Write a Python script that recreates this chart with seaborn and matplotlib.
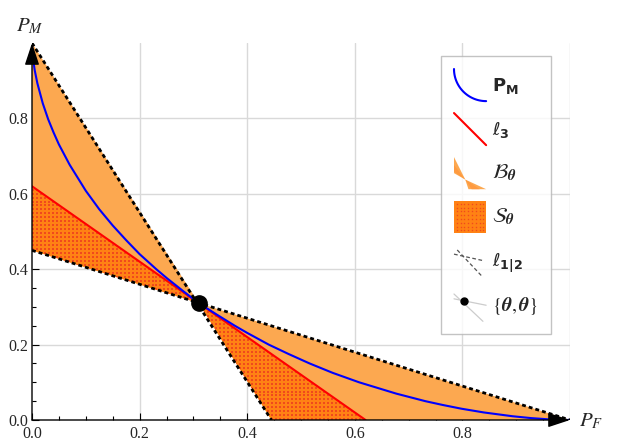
import numpy as np
import matplotlib
matplotlib.use("Agg")
import matplotlib.pyplot as plt
import seaborn as sns
from matplotlib.legend_handler import HandlerBase
from matplotlib.lines import Line2D
from matplotlib.patches import Polygon, Rectangle

# values
theta = 0.31
pm_x = [0.0, 0.0002, 0.001, 0.002, 0.005, 0.01, 0.02, 0.03, 0.04, 0.05, 0.07, 0.1,
        0.125, 0.15, 0.175, 0.2, 0.231, 0.25, 0.28, 0.31, 0.343, 0.377, 0.4, 0.44,
        0.477, 0.516, 0.559, 0.608, 0.677, 0.731, 0.763, 0.798, 0.84, 0.893, 0.928,
        0.958, 0.972, 0.989, 1.0]
pm_y = [1.0, 0.989, 0.972, 0.958, 0.928, 0.893, 0.84, 0.798, 0.763, 0.731, 0.677, 0.608,
        0.559, 0.516, 0.477, 0.44, 0.4, 0.377, 0.343, 0.31, 0.28, 0.25, 0.231, 0.2,
        0.175, 0.15, 0.125, 0.1, 0.07, 0.05, 0.04, 0.03, 0.02, 0.01, 0.005,
        0.002, 0.001, 0.0002, 0.0]
l3_x = [0.0, 0.62]
l3_y = [0.62, 0.0]
l1_x = [0.0, 0.445]
l1_y = [1.0, 0.0]
l2_x = [0.0, 1.0]
l2_y = [0.45, 0.0]
tick_vals = [0.0, 0.2, 0.4, 0.6, 0.8]
tick_labels = ["0.0", "0.2", "0.4", "0.6", "0.8"]
minor_vals = [0.05, 0.1, 0.15, 0.25, 0.3, 0.35, 0.45, 0.5, 0.55, 0.65, 0.7, 0.75, 0.85, 0.9, 0.95]
vgrid = [0.2, 0.4, 0.6, 0.8, 1.0]
hgrid = [0.2, 0.4, 0.6, 0.8]

light_orange = "#FCA850"
dark_orange = "#FF8214"
dot_red = "#F04A1C"

sns.set_theme(style="white")
plt.rcParams["font.family"] = ["Liberation Serif", "DejaVu Serif"]
plt.rcParams["mathtext.fontset"] = "dejavusans"

fig = plt.figure(figsize=(6.18, 4.48), dpi=100)
ax = fig.add_axes([32 / 618, 28 / 448, 538 / 618, 377 / 448])
ax.set_xlim(0, 1)
ax.set_ylim(0, 1)

for v in vgrid:
    ax.axvline(v, color="#d9d9d9", lw=1, zorder=0)
for v in hgrid:
    ax.axhline(v, color="#d9d9d9", lw=1, zorder=0)

# regions
b_left = [(l1_x[0], l1_y[0]), (theta, theta), (l2_x[0], l2_y[0])]
b_right = [(theta, theta), (l2_x[1], l2_y[1]), (l1_x[1], l1_y[1])]
s_left = [(l3_x[0], l3_y[0]), (theta, theta), (l2_x[0], l2_y[0])]
s_right = [(theta, theta), (l3_x[1], l3_y[1]), (l1_x[1], l1_y[1])]
for poly in (b_left, b_right):
    ax.add_patch(Polygon(poly, closed=True, fc=light_orange, ec="none", zorder=1))
gx, gy = np.meshgrid(np.arange(0.002, 1, 0.0074), np.arange(0.002, 1, 0.0105))
for poly in (s_left, s_right):
    p = Polygon(poly, closed=True, fc=dark_orange, ec="none", zorder=2)
    ax.add_patch(p)
    # dot texture
    sc = ax.scatter(gx.ravel(), gy.ravel(), s=1.1, marker="s", c=dot_red,
                    linewidths=0, zorder=2.5)
    sc.set_clip_path(p)

sns.lineplot(x=l3_x, y=l3_y, color="red", lw=1.5, ax=ax, zorder=3)
sns.lineplot(x=pm_x, y=pm_y, color="blue", lw=1.5, ax=ax, sort=False, zorder=4)
for lx, ly in ((l1_x, l1_y), (l2_x, l2_y)):
    sns.lineplot(x=lx, y=ly, color="black", lw=2, ax=ax, zorder=5,
                 linestyle=(0, (1.4, 1.1)))
ax.plot([theta], [theta], "o", color="black", ms=11, zorder=6, clip_on=False)

# axes with arrows
for s in ax.spines.values():
    s.set_visible(False)
for tip in ((1.0, 0), (0, 1.0)):
    ax.annotate("", xy=tip, xytext=(0, 0), xycoords="data",
                arrowprops=dict(arrowstyle="-|>,head_length=0.85,head_width=0.28",
                                color="black", lw=1, mutation_scale=16,
                                shrinkA=0, shrinkB=0),
                zorder=7, annotation_clip=False)

ax.set_xticks(tick_vals, tick_labels)
ax.set_yticks(tick_vals, tick_labels)
ax.set_xticks(minor_vals, minor=True)
ax.set_yticks(minor_vals, minor=True)
ax.tick_params(which="both", direction="in", color="black", width=0.8,
               bottom=True, left=True, labelsize=11.5)
ax.tick_params(axis="x", pad=4.5)
ax.tick_params(axis="y", pad=3)
ax.tick_params(which="major", length=5)
ax.tick_params(which="minor", length=3)
ax.grid(False)

ax.text(-0.005, 1.045, "$P_M$", transform=ax.transAxes, fontsize=15,
        math_fontfamily="stix", ha="center", va="center")
ax.text(1.04, -0.005, "$P_F$", transform=ax.transAxes, fontsize=15,
        math_fontfamily="stix", ha="center", va="center")


# legend icons
class IconHandler(HandlerBase):
    def __init__(self, kind):
        super().__init__()
        self.kind = kind

    def create_artists(self, legend, orig, xd, yd, w, h, fs, trans):
        x0, y0 = -xd, -yd
        x1, y1 = x0 + w, y0 + h
        k = self.kind
        if k == "arc":
            t = np.linspace(0, np.pi / 2, 40)
            return [Line2D(x0 + w - w * np.cos(t), y0 + h - h * np.sin(t),
                           color="blue", lw=1.5, transform=trans)]
        if k == "line":
            return [Line2D([x0, x1], [y1, y0], color="red", lw=1.5, transform=trans)]
        if k == "bowtie":
            cx, cy = x0 + 0.35 * w, y0 + 0.3 * h
            a = Polygon([(x0, y1), (cx, cy), (x0, y0 + 0.5 * h)], fc=light_orange,
                        ec="none", transform=trans)
            b = Polygon([(cx, cy), (x1, y0), (x0 + 0.45 * w, y0)], fc=light_orange,
                        ec="none", transform=trans)
            c = Polygon([(x0, y0 + 0.75 * h), (cx, cy), (x0, y0 + 0.55 * h)], fc="#FF9A40",
                        ec="none", transform=trans)
            d = Polygon([(cx, cy), (x0 + 0.8 * w, y0), (x0 + 0.55 * w, y0)], fc="#FF9A40",
                        ec="none", transform=trans)
            return [a, b, c, d]
        if k == "square":
            arts = [Rectangle((x0, y0), w, h, fc=dark_orange, ec="none", transform=trans)]
            gx, gy = np.meshgrid(np.linspace(x0 + 2, x1 - 2, 8), np.linspace(y0 + 2, y1 - 2, 8))
            arts.append(Line2D(gx.ravel(), gy.ravel(), ls="none", marker="s", ms=1.0,
                               mew=0, color=dot_red, transform=trans))
            return arts
        if k == "dashes":
            a = Line2D([x0, x1 - 0.1 * w], [y0 + 0.72 * h, y0 + 0.52 * h], color="#555555",
                       lw=0.9, ls=(0, (3, 2)), transform=trans)
            b = Line2D([x0 + 0.1 * w, x1 - 0.1 * w], [y0 + 0.85 * h, y0], color="#555555",
                       lw=0.9, ls=(0, (3, 2)), transform=trans)
            return [a, b]
        if k == "dot":
            a = Line2D([x0, x1], [y0 + 0.7 * h, y0 + 0.5 * h], color="#cccccc", lw=0.9,
                       transform=trans)
            b = Line2D([x0, x1 - 0.1 * w], [y0 + 0.85 * h, y0], color="#cccccc", lw=0.9,
                       transform=trans)
            c = Line2D([x0 + 0.3 * w], [y0 + 0.64 * h], marker="o", ms=5, color="black",
                       transform=trans)
            return [a, b, c]
        return []


kinds = ["arc", "line", "bowtie", "square", "dashes", "dot"]
labels = [r"$\mathbf{P}_{\mathbf{M}}$", r"$\ell_{\mathbf{3}}$",
          r"$\mathcal{B}_{\boldsymbol{\theta}}$", r"$\mathcal{S}_{\boldsymbol{\theta}}$",
          r"$\ell_{\mathbf{1|2}}$", r"$\{\boldsymbol{\theta},\boldsymbol{\theta}\}$"]
label_fonts = ["dejavusans", "dejavusans", "stix", "stix", "dejavusans", "stix"]
label_sizes = [13, 13, 15, 15, 13, 14]
handles = [Line2D([], []) for _ in kinds]
hmap = {hd: IconHandler(k) for hd, k in zip(handles, kinds)}
leg = fig.legend(handles, labels, handler_map=hmap, loc="upper left",
                 bbox_to_anchor=(441 / 618, 1 - 56 / 448), fontsize=13,
                 handlelength=1.78, handleheight=2.36, labelspacing=0.66,
                 handletextpad=0.35, borderpad=0.72, borderaxespad=0,
                 frameon=True, fancybox=False)
leg.get_frame().set_edgecolor("#b4b4b4")
leg.get_frame().set_linewidth(1)
for t, f, sz in zip(leg.get_texts(), label_fonts, label_sizes):
    t.set_math_fontfamily(f)
    t.set_fontsize(sz)

fig.savefig("out.png", dpi=100)
